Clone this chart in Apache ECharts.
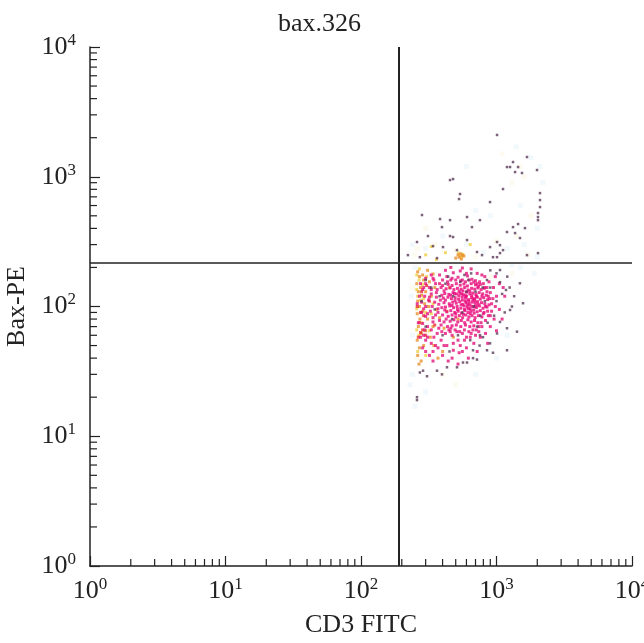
<!DOCTYPE html>
<html>
<head>
<meta charset="utf-8">
<script src="https://cdn.jsdelivr.net/npm/echarts@6/dist/echarts.min.js"></script>
<style>html,body{margin:0;padding:0;background:#fff;}#c{width:644px;height:643px;}</style>
</head>
<body>
<div id="c"></div>
<script>
const titleText = 'bax.326';
const xName = 'CD3 FITC';
const yName = 'Bax-PE';
const axisMin = 1;
const axisMax = 10000;
const gateX = 191;
const gateY = 216;
const minorTickValues = [2,3,4,5,6,7,8,9,20,30,40,50,60,70,80,90,200,300,400,500,600,700,800,900,2000,3000,4000,5000,6000,7000,8000,9000];

const faintCyan = [[240,300],[300,280],[400,350],[600,300],[800,260],[1200,280],[1600,300],[2000,240],[1500,600],[900,500],[2200,900],[1800,1400],[1400,1700],[2100,1200],[240,60],[240,30],[230,25],[300,22],[250,17],[1200,60],[1000,40],[700,30],[1500,200],[2000,400],[235,120],[250,200],[1900,180],[1300,210],[600,1200],[700,550]];
const faintCream = [[260,280],[350,300],[500,270],[700,240],[1000,320],[1400,350],[1800,500],[1300,900],[1600,1000],[1100,1500],[300,400],[250,250],[240,140],[260,40],[400,30],[1300,180],[900,170],[1700,250],[500,25],[1500,1200]];

const yellowPts = [[258,175],[268,160],[262,120],[275,112],[258,96],[268,60],[258,66],[280,75],[262,45],[290,115],[300,90],[285,148],[305,170],[320,65],[300,42],[340,105],[330,88],[258,135],[270,195],[555,240],[540,245],[565,252],[525,258],[360,230],[420,260],[300,250],[640,300],[330,290]];

const orangePts = [[262,185],[270,170],[258,150],[275,140],[265,130],[280,122],[262,110],[270,100],[285,92],[260,88],[272,80],[265,70],[280,62],[260,55],[270,48],[262,42],[290,160],[300,130],[295,105],[310,80],[300,65],[290,50],[320,155],[330,120],[315,100],[340,70],[325,58],[350,140],[360,95],[345,50],[380,82],[410,68],[400,45],[370,40],[278,38],[268,36],[430,92],[450,140],[480,58],[520,80],[310,190],[340,178],[285,175],[560,248],[530,240],[550,232],[575,245],[545,255],[520,250],[500,236]];

const redPts = [[275,63],[265,58],[285,66],[300,60],[270,75],[290,85],[320,110],[280,130],[305,145],[350,72],[260,100],[275,90]];

const magentaCore = [
[440,148],[470,145],[505,150],[540,146],[575,149],[610,144],[650,150],[700,147],[735,143],
[425,137],[455,139],[485,135],[515,138],[548,136],[582,140],[618,134],[655,138],[690,136],[728,139],[770,135],
[415,126],[445,124],[478,128],[508,125],[538,127],[570,123],[600,129],[635,125],[668,127],[705,124],[745,128],[790,125],[840,122],
[405,116],[438,118],[465,115],[495,117],[525,114],[558,118],[590,116],[622,113],[655,117],[688,115],[722,118],[760,114],[805,117],[860,113],
[410,107],[448,105],[475,108],[505,106],[535,109],[565,104],[597,107],[630,105],[662,108],[697,106],[733,104],[775,107],[820,105],[880,103],
[420,99],[452,101],[482,98],[512,100],[545,97],[577,101],[608,99],[640,96],[675,100],[710,98],[748,101],[795,97],[850,99],
[430,91],[460,93],[492,90],[522,92],[552,89],[585,93],[616,90],[648,92],[684,89],[720,91],[760,93],[810,90],
[440,84],[470,86],[500,83],[532,85],[562,82],[594,86],[626,83],[660,85],[695,82],[735,85],[780,83],
[455,77],[485,79],[518,76],[550,78],[582,75],[615,79],[650,76],[688,78],[728,75],
[470,71],[505,72],[545,70],[590,72],[635,70],[680,71],
[495,111],[528,121],[560,112],[592,121],[625,110],[657,121],[690,111],[515,95],[548,103],[580,95],[612,103],[645,101],[678,94],[530,131],[565,132],[600,120],[635,131],[500,88],[570,87],[640,88],[710,120],[725,109],[470,102],[460,122],[490,126],[555,125],[620,96],[670,113],[705,101],[590,110]
];

const magentaOuter = [[380,150],[360,128],[350,108],[370,90],[340,82],[390,72],[365,62],[400,160],[395,98],[385,112],[320,118],[300,100],[330,135],[310,88],[345,160],[290,140],[270,120],[310,70],[355,50],[390,55],[420,62],[445,66],[430,170],[470,165],[520,168],[560,160],[610,172],[660,162],[700,158],[750,155],[800,150],[850,140],[900,128],[940,115],[980,100],[920,92],[870,85],[830,78],[780,70],[740,64],[700,60],[650,62],[600,58],[560,62],[510,64],[470,60],[430,50],[480,52],[540,50],[600,48],[680,52],[760,58],[830,62],[900,70],[960,80],[1000,120],[1050,95],[950,140],[880,155],[820,170],[480,182],[540,188],[600,180],[420,190],[380,175],[330,175],[300,55],[340,45],[400,42],[470,40],[530,44],[300,150],[280,90],[260,105],[265,75],[290,60],[320,42],[1100,80],[1000,65],[720,180],[780,175],[650,195],[560,198],[460,200],[1050,150],[1150,120],[1120,140],[980,170],[860,52],[720,45],[620,40],[520,36],[440,38]];

const magentaLeft = [[275,150],[285,135],[295,120],[280,108],[290,96],[300,84],[285,74],[295,66],[310,58],[320,140],[330,125],[315,112],[335,100],[325,92],[340,76],[330,66],[345,58],[355,150],[365,135],[360,118],[375,104],[370,96],[355,86],[380,78],[375,68],[395,64],[400,145],[410,132],[395,122],[420,112],[415,94],[400,86],[425,80],[410,76],[435,70],[455,64],[300,165],[340,165],[390,140],[435,155],[460,160],[500,160],[545,158],[590,155],[630,160],[680,154],[720,150],[760,148],[810,138],[850,130],[890,115],[920,105],[900,85],[860,92],[830,100],[870,120],[820,140],[780,120],[800,88],[770,75],[740,70],[710,66],[670,66],[625,64],[580,66],[535,64],[495,66],[460,68],[520,55],[580,55],[640,58],[480,46],[560,45],[410,50],[370,48],[330,52],[285,48],[275,58],[300,45],[340,38]];

const purpleUpper = [[1009,2099],[1679,1419],[1324,1298],[1195,1188],[1259,1188],[1443,1188],[1371,1087],[1542,1069],[1991,1127],[454,943],[478,960],[1117,804],[2094,748],[2094,661],[2094,584],[538,736],[529,673],[896,638],[2024,525],[2024,489],[2024,463],[282,507],[383,472],[454,463],[606,489],[755,463],[1443,432],[1324,409],[1622,402],[396,409],[659,409],[1195,375],[1371,368],[312,349],[454,349],[478,343],[606,325],[1009,314],[1490,337],[259,314],[340,292],[403,287],[896,287],[1061,297],[1117,272],[511,272],[718,263],[1061,258],[222,249],[272,240],[1679,249],[2024,258],[364,236],[782,249],[1009,240]];

const purpleLower = [[1061,154],[1175,134],[1259,94],[1061,76],[1009,62],[1195,46],[851,46],[718,39],[606,37],[511,34],[364,32],[307,29],[396,30],[272,31],[259,20],[1061,191],[942,240],[795,58],[671,46],[896,52],[1490,151],[1570,106],[1416,64],[1195,68],[942,44],[671,40],[566,37],[431,34],[287,32],[259,19],[755,60],
[420,150],[480,120],[560,90],[700,130],[820,110],[350,95],[300,70],[620,160],[900,140],[760,85],[520,60],[440,170],[640,55],[380,120],[580,175],[720,70],[1000,110],[850,160],[330,140],[470,80],[600,130],[680,100],[960,85],[1100,125],[280,110],[400,60],[540,155],[790,140],[860,75],[1150,90],[300,160],[650,180],[750,50],[450,45],[1250,140],[1300,100],[1200,170],[1000,180],[900,190],[1350,120]];

const FONT = 'Liberation Serif';
const INK = '#222';

function expLabel(v) {
  const e = Math.round(Math.log10(v));
  return '{a|10}{b|' + e + '}';
}
const richStyle = {
  a: { fontFamily: FONT, fontSize: 26, color: INK, lineHeight: 30 },
  b: { fontFamily: FONT, fontSize: 17, color: INK, lineHeight: 17, verticalAlign: 'top' }
};

function scatter(data, color, size, z) {
  return { type: 'scatter', data: data, symbol: 'rect', symbolSize: size, itemStyle: { color: color }, z: z, silent: true, animation: false };
}

const chart = echarts.init(document.getElementById('c'), null, { renderer: 'canvas' });
chart.setOption({
  backgroundColor: '#fff',
  animation: false,
  title: {
    text: titleText, left: 273, top: 6,
    textStyle: { fontFamily: FONT, fontSize: 26, fontWeight: 'normal', color: INK }
  },
  grid: { left: 90, right: 12, top: 47, bottom: 77, containLabel: false, outerBoundsMode: 'none' },
  xAxis: {
    type: 'log', logBase: 10, min: axisMin, max: axisMax,
    name: xName, nameLocation: 'middle', nameGap: 46,
    nameTextStyle: { fontFamily: FONT, fontSize: 26, color: INK },
    axisLine: { show: true, lineStyle: { color: INK, width: 1.5 } },
    axisTick: { show: true, inside: true, length: 10, lineStyle: { color: INK, width: 1.2 } },
    axisLabel: { margin: 10, formatter: expLabel, rich: richStyle },
    splitLine: { show: false }
  },
  yAxis: {
    type: 'log', logBase: 10, min: axisMin, max: axisMax,
    name: yName, nameLocation: 'middle', nameGap: 54,
    nameTextStyle: { fontFamily: FONT, fontSize: 26, color: INK },
    axisLine: { show: true, lineStyle: { color: INK, width: 1.5 } },
    axisTick: { show: true, inside: true, length: 10, lineStyle: { color: INK, width: 1.2 } },
    axisLabel: { margin: 14, formatter: expLabel, rich: richStyle },
    splitLine: { show: false }
  },
  series: [
    scatter(faintCyan, 'rgba(228,242,249,0.6)', 5, 1),
    scatter(faintCream, 'rgba(251,244,222,0.6)', 5, 1),
    scatter(yellowPts, '#f0cf45', 3, 2),
    scatter(orangePts, '#e8902e', 3, 3),
    scatter(redPts, '#e5302e', 3, 3),
    scatter(magentaOuter, '#e3127a', 3, 4),
    scatter(magentaLeft, '#e3127a', 3, 4),
    scatter(magentaCore, '#e8087a', 3, 4),
    scatter(purpleUpper, '#5a3a58', 2.5, 5),
    scatter(purpleLower, '#5a3a58', 2.5, 5),
    {
      type: 'custom', silent: true, z: 6, animation: false,
      data: minorTickValues.map(v => [v, axisMin]),
      renderItem: function (params, api) {
        const p = api.coord([api.value(0), api.value(1)]);
        return { type: 'line', shape: { x1: p[0], y1: p[1], x2: p[0], y2: p[1] - 7 }, style: { stroke: INK, lineWidth: 1.2 } };
      }
    },
    {
      type: 'custom', silent: true, z: 6, animation: false,
      data: minorTickValues.map(v => [axisMin, v]),
      renderItem: function (params, api) {
        const p = api.coord([api.value(0), api.value(1)]);
        return { type: 'line', shape: { x1: p[0], y1: p[1], x2: p[0] + 7, y2: p[1] }, style: { stroke: INK, lineWidth: 1.2 } };
      }
    },
    {
      type: 'scatter', data: [], silent: true, z: 7,
      markLine: {
        symbol: 'none', silent: true, animation: false,
        label: { show: false },
        data: [
          { xAxis: gateX, lineStyle: { color: INK, width: 2, type: 'solid' } },
          { yAxis: gateY, lineStyle: { color: INK, width: 1.5, type: 'solid' } }
        ]
      }
    }
  ]
});
</script>
</body>
</html>
